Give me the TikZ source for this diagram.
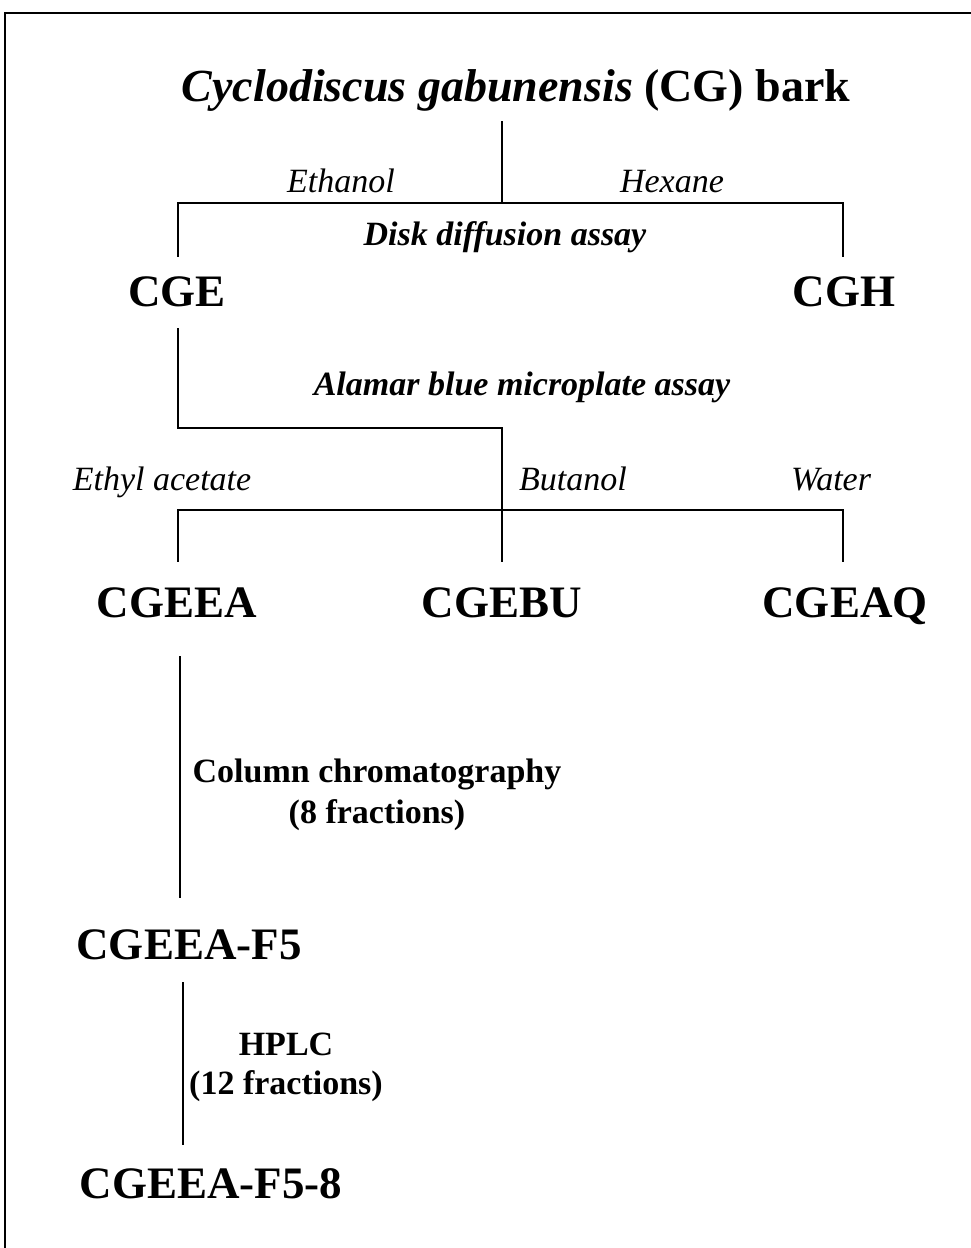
\documentclass[tikz,border=0pt]{standalone}
\usepackage{fontspec}
\setmainfont{Liberation Serif}
\begin{document}
\begin{tikzpicture}[x=1pt,y=-1pt,
  big/.style={font=\fontsize{45}{54}\selectfont\bfseries, inner sep=0pt, anchor=base},
  title/.style={font=\fontsize{46}{54}\selectfont\bfseries, inner sep=0pt, anchor=base},
  solv/.style={font=\fontsize{34}{40}\selectfont\itshape, inner sep=0pt, anchor=base},
  assay/.style={font=\fontsize{34}{40}\selectfont\bfseries\itshape, inner sep=0pt, anchor=base},
  meth/.style={font=\fontsize{34}{40}\selectfont\bfseries, inner sep=0pt, anchor=base},
  conn/.style={line width=2pt, line cap=rect}]
\useasboundingbox (0,0) rectangle (971,1248);
\draw[line width=2pt] (5,1250) -- (5,13) -- (973,13);
% nodes
\node[title] (cg) at (516,101) {\textit{Cyclodiscus gabunensis} (CG) bark};
\node[solv] (eth) at (341,192) {Ethanol};
\node[solv] (hex) at (672,192) {Hexane};
\node[assay] (disk) at (505,245) {Disk diffusion assay};
\node[big] (cge) at (177,306) {CGE};
\node[big] (cgh) at (844,306) {CGH};
\node[assay] (alamar) at (522,395) {Alamar blue microplate assay};
\node[solv] (etac) at (162,490) {Ethyl acetate};
\node[solv] (but) at (573,490) {Butanol};
\node[solv] (wat) at (831,490) {Water};
\node[big] (cgeea) at (177,617) {CGEEA};
\node[big] (cgebu) at (502,617) {CGEBU};
\node[big] (cgeaq) at (845,617) {CGEAQ};
\node[meth] (col) at (377,782) {Column chromatography};
\node[meth] (col2) at (377,823) {(8 fractions)};
\node[big] (f5) at (189,959) {CGEEA-F5};
\node[meth] (hplc) at (286,1055) {HPLC};
\node[meth] (hplc2) at (286,1094) {(12 fractions)};
\node[big] (f58) at (211,1198) {CGEEA-F5-8};
% connector coordinates
\coordinate (t0) at (502,122);
\coordinate (t1) at (502,203);
\coordinate (tl) at (178,203);
\coordinate (tr) at (843,203);
\coordinate (cgeT) at (178,256);
\coordinate (cghT) at (843,256);
\coordinate (cgeB) at (178,329);
\coordinate (k1) at (178,428);
\coordinate (k2) at (502,428);
\coordinate (bl) at (178,510);
\coordinate (br) at (843,510);
\coordinate (eaT) at (178,561);
\coordinate (buT) at (502,561);
\coordinate (aqT) at (843,561);
\coordinate (eaB) at (180,657);
\coordinate (f5T) at (180,897);
\coordinate (f5B) at (183,983);
\coordinate (f58T) at (183,1144);
% connectors
\draw[conn] (t0) -- (t1);
\draw[conn] (cgeT) -- (tl) -- (tr) -- (cghT);
\draw[conn] (cgeB) -- (k1) -- (k2) -- (buT);
\draw[conn] (eaT) -- (bl) -- (br) -- (aqT);
\draw[conn] (eaB) -- (f5T);
\draw[conn] (f5B) -- (f58T);
\end{tikzpicture}
\end{document}
